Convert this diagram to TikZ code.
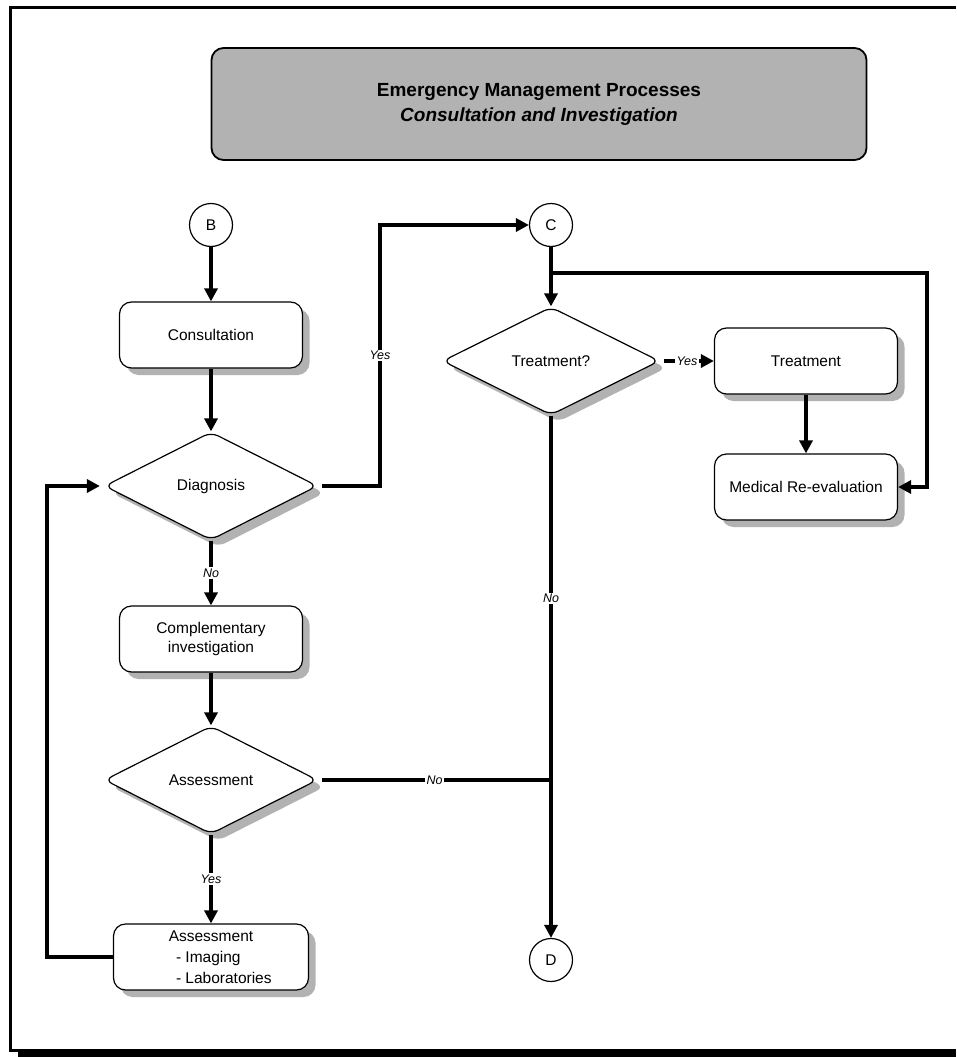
\documentclass[tikz,border=0pt]{standalone}
\usepackage{fontspec}
\setmainfont{Liberation Sans}
\usetikzlibrary{shapes.geometric,shadows,arrows.meta}

\begin{document}
\begin{tikzpicture}[x=1pt, y=-1pt, >={Triangle[length=13pt,width=13pt]}, every node/.style={font=\fontsize{15.5}{19}\selectfont}]
    \tikzstyle{shade} = [drop shadow={shadow xshift=7pt, shadow yshift=-7pt, fill=black!30, opacity=1}]
    \tikzstyle{box} = [rectangle, draw, line width=1.2pt, fill=white, align=center, rounded corners=12pt, minimum width=183pt, minimum height=66pt, shade]
    \tikzstyle{decision} = [diamond, draw, line width=1.2pt, fill=white, align=center, rounded corners=8pt, minimum width=213pt, minimum height=108pt, inner sep=0pt, shade]
    \tikzstyle{connector} = [circle, draw, line width=1.2pt, fill=white, minimum size=43pt, inner sep=0pt]
    \tikzstyle{heading} = [rectangle, draw, line width=1.8pt, fill=black!30, rounded corners=12pt, minimum width=655pt, minimum height=112pt, align=center, font=\fontsize{19}{25}\selectfont\bfseries]
    \tikzstyle{flow} = [draw, line width=3.5pt]
    \tikzstyle{answer} = [fill=white, inner sep=1.5pt, font=\fontsize{12.5}{15}\selectfont\itshape]

    \useasboundingbox (0,0) rectangle (956,1057);
    % page frame
    \fill (18,1049) rectangle (956,1057);
    \draw [line width=3pt] (956,7.5) -- (10.5,7.5) -- (10.5,1050.5) -- (20,1050.5);

    \node (heading) [heading] at (539,104) {Emergency Management Processes\\\textit{Consultation and Investigation}};

    % left column
    \node (B) [connector] at (211,225) {B};
    \node (consult) [box, node distance=110pt, below of=B] {Consultation};
    \node (diagnosis) [decision, node distance=151pt, below of=consult] {Diagnosis};
    \node (complement) [box, node distance=153pt, below of=diagnosis] {Complementary\\investigation};
    \node (assessq) [decision, node distance=141pt, below of=complement] {Assessment};
    \node (assessbox) [box, minimum width=195pt, node distance=177pt, below of=assessq, font=\fontsize{15.5}{21}\selectfont] {Assessment\\\hspace*{27pt}\makebox[97pt][l]{- Imaging}\\\hspace*{27pt}\makebox[97pt][l]{- Laboratories}};

    % right part
    \node (C) [connector, node distance=340pt, right of=B] {C};
    \node (treatq) [decision, minimum width=217pt, node distance=136pt, below of=C] {Treatment?};
    \node (treat) [box, node distance=255pt, right of=treatq] {Treatment};
    \node (reeval) [box, node distance=126pt, below of=treat] {Medical Re-evaluation};
    \node (D) [connector, node distance=735pt, below of=C] {D};

    \coordinate (loopleft) at (47,486);
    \coordinate (yesbend) at (380,486);
    \coordinate (split) at (551,273);
    \coordinate (rightbend) at (927,273);
    \coordinate (join) at (551,780);

    \draw [flow, ->] (B) -- (consult);
    \draw [flow, ->] (consult) -- (diagnosis);
    \draw [flow, ->] (diagnosis) -- node[answer] {No} (complement);
    \draw [flow, ->] (complement) -- (assessq);
    \draw [flow, ->] (assessq) -- node[answer] {Yes} (assessbox);
    \draw [flow, ->, shorten >=4pt] (assessbox.west) -| (loopleft) -- (diagnosis.west);
    \draw [flow, ->, shorten <=4pt] (diagnosis.east) -- (yesbend) |- node[answer, pos=0.25] {Yes} (C);
    \draw [flow, ->] (C) -- (treatq);
    \draw [flow, ->] (split) -- (rightbend) |- (reeval.east);
    \draw [flow, ->, shorten <=4pt] (treatq.east) -- node[answer] {Yes} (treat);
    \draw [flow, ->] (treat) -- (reeval);
    \draw [flow, ->] (treatq) -- node[answer, pos=0.35] {No} (D);
    \draw [flow, shorten <=4pt] (assessq.east) -- node[answer] {No} (join);

\end{tikzpicture}
\end{document}
